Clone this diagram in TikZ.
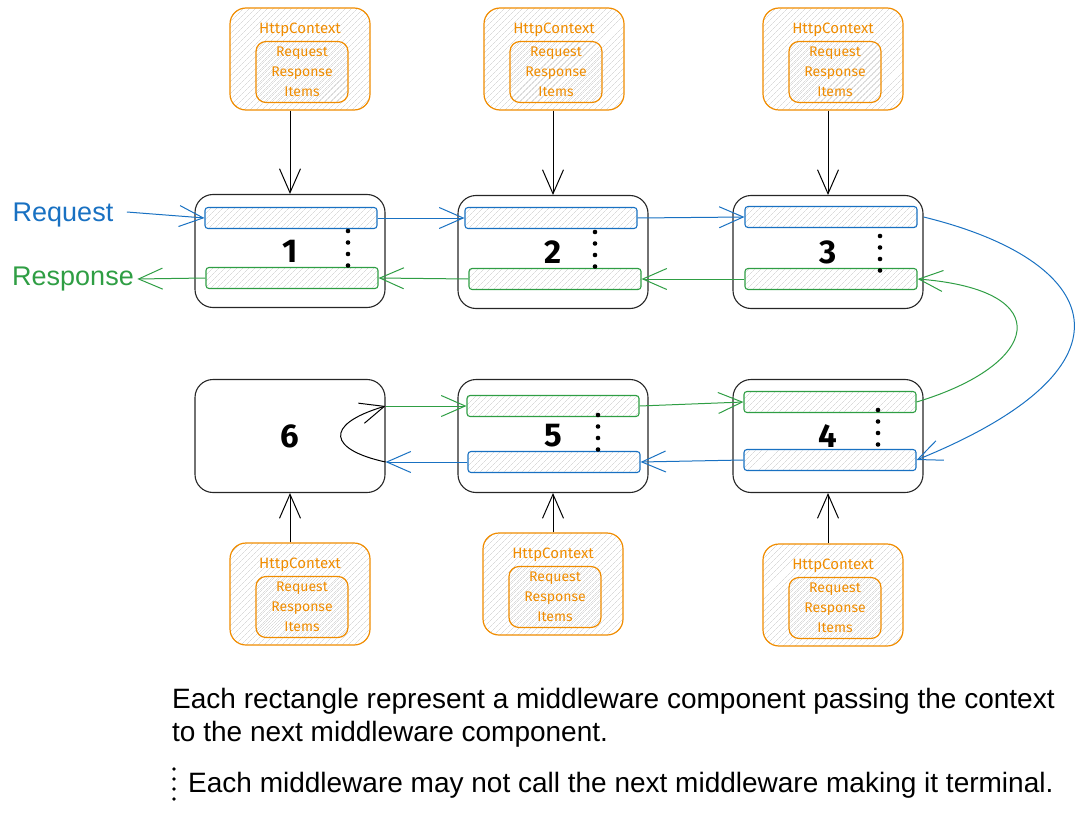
\documentclass[tikz,border=0pt]{standalone}
\usepackage{fontspec}
\setmainfont{Liberation Sans}
\newfontfamily\handfont{Fira Sans}
\usetikzlibrary{arrows.meta,positioning,patterns.meta,calc}

\definecolor{reqblue}{HTML}{1971C2}
\definecolor{resgreen}{HTML}{2F9E44}
\definecolor{ctxorange}{HTML}{F08C00}

\tikzset{
    hatch/.style={pattern={Lines[angle=45,distance=4pt,line width=0.4pt]}, pattern color=black!22},
    mw/.style={draw=black!85, line width=1.1pt, rounded corners=18pt, minimum width=190pt, minimum height=113pt,
        font=\handfont\bfseries\fontsize{33}{33}\selectfont},
    bar/.style={hatch, draw, line width=1.1pt, rounded corners=3pt, minimum width=172pt, minimum height=21pt},
    ctx/.style={hatch, draw=ctxorange, line width=1.2pt, rounded corners=16pt, minimum width=140pt, minimum height=102pt},
    ctxin/.style={hatch, draw=ctxorange, line width=1.2pt, rounded corners=10pt, minimum width=92pt, minimum height=61pt,
        align=center, text=ctxorange, font=\handfont\fontsize{14}{20}\selectfont},
    ctxtitle/.style={text=ctxorange, font=\handfont\fontsize{15}{15}\selectfont},
    arr/.style={-{Straight Barb[length=24pt,width=21pt]}, line width=1pt},
    lbl/.style={font=\fontsize{27}{27}\selectfont},
    note/.style={font=\fontsize{28}{33}\selectfont, align=left, anchor=north west, inner sep=0pt}
}

% four dots marking a possible short-circuit
\newcommand{\mwdots}[2]{
    \foreach \k in {0,...,3}
        \fill (#1,#2+\k*11.5) circle (2.3pt);
}

% one HttpContext block: name, centre x, centre y
\newcommand{\ctxblock}[3]{
    \node [ctx] (#1) at (#2,#3) {};
    \node [ctxin] (#1in) at (#2+2,#3+13) {Request\\Response\\Items};
    \node [ctxtitle] (#1ttl) at (#2,#3-29) {HttpContext};
}

\begin{document}
\begin{tikzpicture}[x=1pt,y=-1pt]
\useasboundingbox (0,0) rectangle (1086,813);

% Middleware components
\node [mw] (m1) at (290,251) {1};
\node [mw] (m2) at (553,252) {2};
\node [mw] (m3) at (828,252) {3};
\node [mw] (m6) at (290,436) {6};
\node [mw] (m5) at (553,436) {5};
\node [mw] (m4) at (828,436) {4};

% Request / response bars
\node [bar, draw=reqblue] (m1top) at (291,218) {};
\node [bar, draw=resgreen] (m1bot) at (292,278) {};
\node [bar, draw=reqblue] (m2top) at (551,218) {};
\node [bar, draw=resgreen] (m2bot) at (555,279) {};
\node [bar, draw=reqblue] (m3top) at (831,217) {};
\node [bar, draw=resgreen] (m3bot) at (831,279) {};
\node [bar, draw=resgreen] (m5top) at (553,406) {};
\node [bar, draw=reqblue] (m5bot) at (554,462) {};
\node [bar, draw=resgreen] (m4top) at (830,402) {};
\node [bar, draw=reqblue] (m4bot) at (830,460) {};

% Short-circuit dots
\mwdots{348}{231}
\mwdots{595}{232}
\mwdots{880}{236}
\mwdots{598}{415}
\mwdots{878}{410}

% HttpContext blocks
\ctxblock{c1}{300}{59}
\ctxblock{c2}{554}{59}
\ctxblock{c3}{833}{59}
\ctxblock{c6}{300}{594}
\ctxblock{c5}{553}{584}
\ctxblock{c4}{833}{595}

\draw [arr] (c1.south -| m1) -- (m1.north);
\draw [arr] (c2.south -| m2) -- (m2.north);
\draw [arr] (c3.south -| m3) -- (m3.north);
\draw [arr] (c6.north -| m6) -- (m6.south);
\draw [arr] (c5.north -| m5) -- (m5.south);
\draw [arr] (c4.north -| m4) -- (m4.south);

% Labels on the left
\node [lbl, text=reqblue] (reqlbl) at (63,215) {Request};
\node [lbl, text=resgreen] (reslbl) at (73,279) {Response};

% Request path
\draw [arr, reqblue] (reqlbl.east) ++(10,-3) -- (m1top.west);
\draw [arr, reqblue] (m1top.east) -- (m2top.west);
\draw [arr, reqblue] (m2top.east) -- (m3top.west);
\draw [arr, reqblue] (m3.east |- m3top) .. controls (1100,260) and (1150,365) .. (m4bot.east);
\draw [arr, reqblue] (m4bot.west) -- (m5bot.east);
\draw [arr, reqblue] (m5bot.west) -- (m6.east |- m5bot);

% Terminal middleware turns around
\draw [arr] (m6.east |- m5bot) .. controls (330,450) and (322,425) .. (m6.east |- m5top);

% Response path
\draw [arr, resgreen] (m6.east |- m5top) -- (m5top.west);
\draw [arr, resgreen] (m5top.east) -- (m4top.west);
\draw [arr, resgreen] (m4top.east) .. controls (1040,365) and (1060,290) .. (m3bot.east);
\draw [arr, resgreen] (m3bot.west) -- (m2bot.east);
\draw [arr, resgreen] (m2bot.west) -- (m1bot.east);
\draw [arr, resgreen] (m1bot.west) -- (reslbl.east);

% Notes
\node [note] (note1) at (172,688) {Each rectangle represent a middleware component passing the context\\to the next middleware component.};
\foreach \k in {0,...,3}
    \fill (174,769+\k*10) circle (1.8pt);
\node [note, anchor=west] (note2) at (188,785) {Each middleware may not call the next middleware making it terminal.};

\end{tikzpicture}
\end{document}
